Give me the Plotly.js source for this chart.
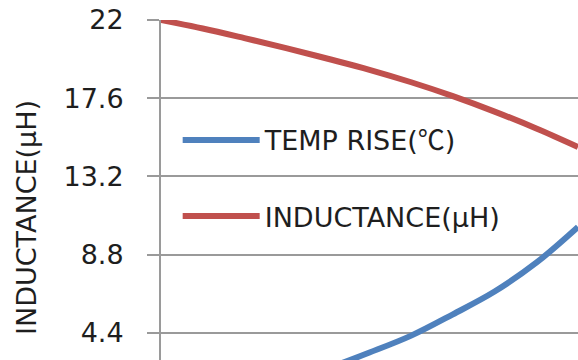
<!DOCTYPE html>
<html>
<head>
<meta charset="utf-8">
<script src="https://cdn.plot.ly/plotly-3.0.1.min.js"></script>
<style>html,body{margin:0;padding:0;background:#fff;}#chart{width:578px;height:360px;}</style>
</head>
<body>
<div id="chart"></div>
<script>
// Current (arbitrary units along the visible x span)
const current = [0, 1, 2, 3, 4, 5, 6, 7, 8, 9, 10];
// Inductance (µH)
const inductance = [22.0, 21.52, 20.98, 20.42, 19.82, 19.2, 18.5, 17.72, 16.85, 15.9, 14.86];
// Temperature rise (℃), plotted on the same scale
const tempRise = [0.0, 0.5, 1.0, 1.65, 2.42, 3.3, 4.25, 5.45, 6.73, 8.35, 10.36];
const yTicks = [4.4, 8.8, 13.2, 17.6, 22];
const yTickLabels = ['4.4', '8.8', '13.2', '17.6', '22'];
const seriesNames = ['TEMP RISE(<span style="font-family:\'Noto Sans CJK SC\'">℃</span>)', 'INDUCTANCE(μH)'];
const yTitle = 'INDUCTANCE(μH)';

const FONT = 'DejaVu Sans, sans-serif';
const TXT = '#1e1e1e';
const traces = [
  {x: current, y: tempRise, name: seriesNames[0], mode: 'lines', line: {color: '#4F81BD', width: 6, shape: 'spline'}, legendgroup: 'a'},
  {x: current, y: inductance, name: seriesNames[1], mode: 'lines', line: {color: '#C0504D', width: 6, shape: 'spline'}, legendgroup: 'b'}
];
const layout = {
  width: 578, height: 360,
  margin: {l: 161, r: 0, t: 20, b: 0, pad: 0},
  paper_bgcolor: '#fff', plot_bgcolor: '#fff',
  font: {family: FONT, size: 27, color: TXT},
  showlegend: true,
  legend: {x: 0.04, y: 0.718, xanchor: 'left', yanchor: 'top', bgcolor: 'rgba(0,0,0,0)', font: {family: FONT, size: 27, color: TXT}, tracegroupgap: 38, itemwidth: 77},
  xaxis: {range: [0, 10], showticklabels: false, showgrid: false, zeroline: false, showline: false, ticks: ''},
  yaxis: {range: [2.88, 22], tickvals: yTicks, ticktext: yTickLabels, ticks: 'outside', ticklen: 12, tickwidth: 2, tickcolor: '#9a9a9a',
          showgrid: true, gridcolor: '#9a9a9a', gridwidth: 2, showline: true, linecolor: '#9a9a9a', linewidth: 2, zeroline: false,
          ticklabelstandoff: 18, tickfont: {family: FONT, size: 27, color: TXT}},
  annotations: [{text: yTitle, textangle: -90, xref: 'paper', yref: 'paper', x: -161/417 + 27/417, y: (360-218)/340, showarrow: false, xanchor: 'center', yanchor: 'middle', font: {family: FONT, size: 27, color: TXT}}]
};
Plotly.newPlot('chart', traces, layout, {staticPlot: true});
</script>
</body>
</html>
